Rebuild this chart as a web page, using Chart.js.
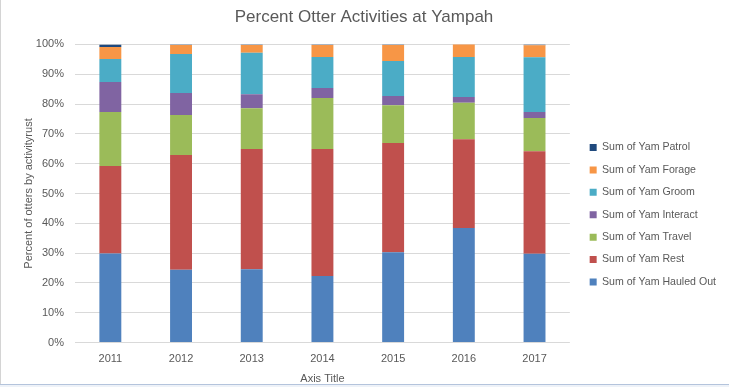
<!DOCTYPE html>
<html>
<head>
<meta charset="utf-8">
<script src="https://cdn.jsdelivr.net/npm/chart.js@4.4.1/dist/chart.umd.min.js"></script>
<style>
  html, body { margin: 0; padding: 0; background: #fff; }
  #wrap { position: relative; width: 729px; height: 387px; overflow: hidden; }
  #edge { position: absolute; left: 0; top: 0; width: 1px; height: 384px; background: #d4d4d4; }
  #strip { position: absolute; left: 0; top: 384px; width: 729px; height: 3px; border-top: 1px solid #b4c4dc; background: #eef2f8; }
</style>
</head>
<body>
<div id="wrap">
  <canvas id="chart" width="729" height="387"></canvas>
  <div id="edge"></div>
  <div id="strip"></div>
</div>
<script>
// years on the x axis
const years = ['2011', '2012', '2013', '2014', '2015', '2016', '2017'];

// percent of otters per activity
const hauledOut = [29.9, 24.4, 24.6, 22.3, 30.3, 38.4, 29.8];
const rest      = [29.3, 38.5, 40.3, 42.6, 36.6, 29.8, 34.4];
const travel    = [18.1, 13.4, 13.7, 17.1, 12.7, 12.2, 11.1];
const interact  = [10.1,  7.4,  4.7,  3.4,  3.1,  2.0,  2.0];
const groom     = [ 7.7, 13.1, 13.9, 10.4, 11.7, 13.4, 18.4];
const forage    = [ 4.0,  3.0,  2.6,  4.0,  5.4,  4.4,  4.0];
const patrol    = [ 0.9,  0.2,  0.2,  0.2,  0.2,  0.2,  0.3];

const yTicks = [0, 10, 20, 30, 40, 50, 60, 70, 80, 90, 100];

const grey = '#595959';
const fnt = 'Liberation Sans, Arial, sans-serif';

function ds(label, data, color) {
  return {
    label: label,
    data: data,
    backgroundColor: color,
    borderWidth: 0,
    barPercentage: 0.31,
    categoryPercentage: 1.0
  };
}

// nudge the legend and title to where excel puts them
const legendShift = {
  id: 'legendShift',
  afterLayout(chart) {
    const lg = chart.legend;
    lg.left += 8;
    lg.right += 8;
    lg.top += 22;
    lg.bottom += 22;
    const tb = chart.titleBlock;
    tb.left += 5;
    tb.right += 5;
  }
};

new Chart(document.getElementById('chart'), {
  type: 'bar',
  data: {
    labels: years,
    datasets: [
      ds('Sum of Yam Hauled Out', hauledOut, '#4F81BD'),
      ds('Sum of Yam Rest', rest, '#C0504D'),
      ds('Sum of Yam Travel', travel, '#9BBB59'),
      ds('Sum of Yam Interact', interact, '#8064A2'),
      ds('Sum of Yam Groom', groom, '#4BACC6'),
      ds('Sum of Yam Forage', forage, '#F79646'),
      ds('Sum of Yam Patrol', patrol, '#1F497D')
    ]
  },
  options: {
    responsive: false,
    animation: false,
    layout: { padding: { left: 0, right: 11, top: 0, bottom: 1.5 } },
    plugins: {
      title: {
        display: true,
        text: 'Percent Otter Activities at Yampah',
        color: grey,
        font: { family: fnt, size: 17, weight: 'normal' },
        padding: { top: 7, bottom: 17 }
      },
      legend: {
        position: 'right',
        reverse: true,
        labels: {
          boxWidth: 7,
          boxHeight: 7,
          padding: 11.8,
          color: grey,
          font: { family: fnt, size: 10.6 }
        }
      },
      tooltip: { enabled: false }
    },
    scales: {
      x: {
        stacked: true,
        grid: { display: false },
        border: { display: false },
        ticks: { color: grey, font: { family: fnt, size: 11 }, padding: 1.5 },
        title: {
          display: true,
          text: 'Axis Title',
          color: grey,
          font: { family: fnt, size: 11 },
          padding: { top: 5.5, bottom: 0 }
        }
      },
      y: {
        stacked: true,
        min: 0,
        max: 100,
        afterBuildTicks(scale) {
          scale.ticks = yTicks.map(v => ({ value: v }));
        },
        afterFit(scale) { scale.width = 75; },
        grid: { color: '#d9d9d9', drawTicks: false },
        border: { display: false },
        ticks: {
          color: grey,
          font: { family: fnt, size: 11 },
          padding: 11,
          callback: v => v + '%'
        },
        title: {
          display: true,
          text: 'Percent of otters by activityrust',
          color: grey,
          font: { family: fnt, size: 11 },
          padding: { top: 22, bottom: 0 }
        }
      }
    }
  },
  plugins: [legendShift]
});
</script>
</body>
</html>
